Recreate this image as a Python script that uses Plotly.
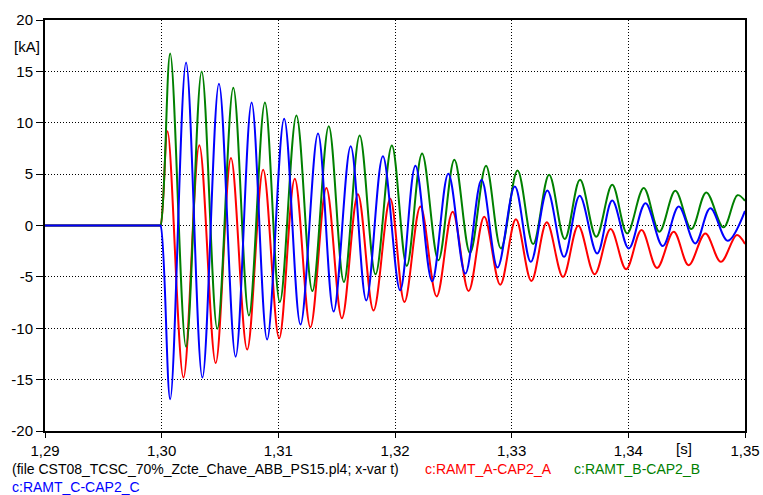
import plotly.graph_objects as go

# ---- data (time in s, current in kA) ----
t_pre = [1.29, 1.2998, 1.2999]
i_pre = [0.0, 0.0, 0.0]

t_A = [1.30050, 1.30187, 1.30323, 1.30463, 1.30594, 1.30733, 1.30870, 1.31007,
       1.31141, 1.31275, 1.31412, 1.31545, 1.31682, 1.31816, 1.31959, 1.32081,
       1.32218, 1.32357, 1.32494, 1.32631, 1.32765, 1.32902, 1.33036, 1.33169,
       1.33301, 1.33440, 1.33571, 1.33711, 1.33848, 1.33981, 1.34113, 1.34246,
       1.34389, 1.34517, 1.34660, 1.34793, 1.34930, 1.35]
i_A = [9.18, -14.8, 7.81, -13.39, 6.57, -12.08, 5.43, -10.98,
       4.55, -9.9, 3.64, -9.02, 3.05, -8.27, 2.6, -7.45,
       1.84, -6.9, 1.35, -6.38, 0.86, -5.76, 0.6, -5.4,
       0.31, -5.0, -0.02, -4.75, -0.34, -4.26, -0.44, -4.13,
       -0.6, -3.87, -0.77, -3.54, -0.93, -1.81]

t_B = [1.30073, 1.30209, 1.30343, 1.30477, 1.30614, 1.30748, 1.30885, 1.31013,
       1.31155, 1.31292, 1.31432, 1.31562, 1.31697, 1.31833, 1.31973, 1.32101,
       1.32232, 1.32372, 1.32509, 1.32643, 1.32780, 1.32908, 1.33050, 1.33184,
       1.33321, 1.33455, 1.33586, 1.33725, 1.33862, 1.33990, 1.34132, 1.34266,
       1.34403, 1.34540, 1.34668, 1.34816, 1.34935, 1.35]
i_B = [16.75, -11.8, 15.0, -10.06, 13.4, -8.76, 11.96, -7.45,
       10.71, -6.38, 9.67, -5.5, 8.76, -4.75, 7.78, -3.93,
       7.0, -3.38, 6.41, -2.66, 5.82, -2.23, 5.36, -1.81,
       4.94, -1.32, 4.45, -1.1, 3.96, -0.77, 3.64, -0.6,
       3.38, -0.34, 3.21, -0.18, 2.95, 2.4]

t_C = [1.30073, 1.30209, 1.30349, 1.30491, 1.30634, 1.30771, 1.30904, 1.31050,
       1.31190, 1.31340, 1.31474, 1.31620, 1.31754, 1.31896, 1.32044, 1.32175,
       1.32318, 1.32457, 1.32603, 1.32742, 1.32879, 1.33027, 1.33164, 1.33306,
       1.33449, 1.33583, 1.33733, 1.33862, 1.34004, 1.34147, 1.34295, 1.34432,
       1.34574, 1.34703, 1.34851, 1.35]
i_C = [-16.9, 15.87, -14.8, 13.8, -12.77, 11.96, -11.1, 10.39,
       -9.64, 8.95, -8.37, 7.71, -7.29, 6.73, -6.31, 5.82,
       -5.43, 5.04, -4.68, 4.45, -4.09, 3.8, -3.54, 3.4,
       -3.05, 2.89, -2.72, 2.43, -2.23, 2.17, -2.0, 1.84,
       -1.74, 1.68, -1.48, 1.42]

x_ticks = [1.29, 1.30, 1.31, 1.32, 1.33, 1.34, 1.35]
x_tick_labels = ["1,29", "1,30", "1,31", "1,32", "1,33", "1,34", "1,35"]
y_ticks = [-20, -15, -10, -5, 0, 5, 10, 15, 20]
y_tick_labels = ["-20", "-15", "-10", "-5", "0", "5", "10", "15", "20"]

series = [
    ("c:RAMT_A-CAP2_A", t_A, i_A, "#ff0000"),
    ("c:RAMT_B-CAP2_B", t_B, i_B, "#008000"),
    ("c:RAMT_C-CAP2_C", t_C, i_C, "#0000ff"),
]

FONT = "Liberation Sans, Arial, sans-serif"

fig = go.Figure()
for name, t, v, col in series:
    fig.add_trace(go.Scatter(
        x=t_pre + t, y=i_pre + v, mode="lines", name=name,
        line=dict(color=col, width=2, shape="spline", smoothing=1.0),
        showlegend=False, hoverinfo="skip"))

L, R, T, B = 45, 18, 20, 64
W, H = 763, 495
pw = W - L - R

axis_common = dict(
    showline=True, linecolor="black", linewidth=2, mirror=True,
    showgrid=True, gridcolor="black", gridwidth=1, griddash="1px,2px",
    zeroline=False, ticks="outside", tickcolor="black", tickwidth=1,
    automargin=False,
    tickfont=dict(family=FONT, size=15, color="black"),
)

fig.update_xaxes(range=[1.29, 1.35], tickmode="array", tickvals=x_ticks,
                 ticktext=x_tick_labels, ticklen=5, **axis_common)
fig.update_yaxes(range=[-20, 20], tickmode="array", tickvals=y_ticks,
                 ticktext=y_tick_labels, ticklen=7, **axis_common)

def px_to_paper(px):
    return (px - L) / pw

ann = [
    dict(text="[kA]", x=px_to_paper(27), xref="paper", xanchor="center",
         y=1, yref="paper", yanchor="middle", yshift=-26,
         font=dict(family=FONT, size=15, color="black")),
    dict(text="[s]", x=1.3448, xref="x", xanchor="center",
         y=0, yref="paper", yanchor="middle", yshift=-17,
         font=dict(family=FONT, size=15, color="black")),
    dict(text="(file CST08_TCSC_70%_Zcte_Chave_ABB_PS15.pl4; x-var t)",
         x=px_to_paper(10), xref="paper", xanchor="left",
         y=0, yref="paper", yanchor="middle", yshift=-38,
         font=dict(family=FONT, size=14, color="black")),
    dict(text="c:RAMT_A-CAP2_A", x=px_to_paper(423), xref="paper", xanchor="left",
         y=0, yref="paper", yanchor="middle", yshift=-38,
         font=dict(family=FONT, size=14, color="#ff0000")),
    dict(text="c:RAMT_B-CAP2_B", x=px_to_paper(572), xref="paper", xanchor="left",
         y=0, yref="paper", yanchor="middle", yshift=-38,
         font=dict(family=FONT, size=14, color="#008000")),
    dict(text="c:RAMT_C-CAP2_C", x=px_to_paper(10), xref="paper", xanchor="left",
         y=0, yref="paper", yanchor="middle", yshift=-56,
         font=dict(family=FONT, size=14, color="#0000ff")),
]
for a in ann:
    a["showarrow"] = False

fig.update_layout(
    width=W, height=H,
    margin=dict(l=L, r=R, t=T, b=B, pad=0, autoexpand=False),
    paper_bgcolor="white", plot_bgcolor="white",
    annotations=ann,
    font=dict(family=FONT),
    hovermode=False,
)

fig.write_html("out.html",
               config={"displayModeBar": False, "responsive": False},
               post_script="document.body.style.margin='0px';"
                           "document.body.style.overflow='hidden';")
